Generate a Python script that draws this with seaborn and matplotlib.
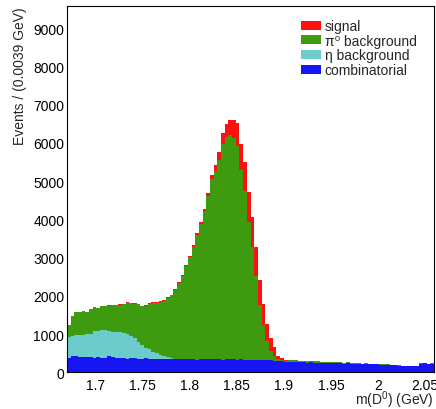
import numpy as np
import pandas as pd
import matplotlib
matplotlib.use("Agg")
import matplotlib.pyplot as plt
from matplotlib.patches import Patch
from matplotlib.ticker import MultipleLocator, FuncFormatter
import seaborn as sns

# Histogram binning: 100 bins of 0.0039 GeV
x_lo = 1.6695
bin_width = 0.0039
n_bins = 100

# Stacked yields per bin (events / bin)
signal = [
    5, 5, 5, 5, 5, 5, 5, 5, 5, 10,
    10, 10, 10, 10, 10, 10, 10, 10, 10, 10,
    15, 15, 15, 15, 15, 15, 20, 20, 20, 25,
    25, 30, 30, 35, 40, 45, 50, 60, 80, 110,
    160, 220, 280, 340, 400, 480, 600, 680, 760, 780,
    780, 740, 660, 560, 430, 320, 230, 95, 35, 10,
    5, 0, 0, 0, 0, 0, 0, 0, 0, 0,
    0, 0, 0, 0, 0, 0, 0, 0, 0, 0,
    0, 0, 0, 0, 0, 0, 0, 0, 0, 0,
    0, 0, 0, 0, 0, 0, 0, 0, 0, 0,
]
pi0_bkg = [
    325, 505, 595, 600, 615, 585, 635, 610, 605, 620,
    635, 670, 695, 690, 715, 740, 820, 840, 890, 990,
    1005, 1105, 1195, 1285, 1315, 1395, 1440, 1540, 1630, 1795,
    1980, 2180, 2420, 2680, 2945, 3265, 3550, 3875, 4255, 4690,
    4920, 5215, 5650, 5810, 5865, 5775, 5600, 4950, 4405, 3600,
    2950, 2205, 1445, 910, 520, 255, 115, 40, 35, 30,
    40, 50, 45, 40, 30, 35, 30, 35, 30, 25,
    30, 25, 30, 35, 25, 20, 25, 20, 15, 20,
    15, 15, 20, 10, 15, 10, 15, 10, 10, 10,
    10, 10, 5, 10, 5, 5, 5, 5, 5, 5,
]
eta_bkg = [
    540, 530, 550, 570, 580, 595, 620, 700, 680, 730,
    725, 650, 670, 680, 690, 670, 640, 595, 530, 435,
    360, 275, 250, 175, 165, 100, 85, 45, 40, 15,
    10, 0, 0, 0, 0, 0, 0, 0, 0, 0,
    0, 0, 0, 0, 0, 0, 0, 0, 0, 0,
    0, 0, 0, 0, 0, 0, 0, 0, 0, 0,
    0, 0, 0, 0, 0, 0, 0, 0, 0, 0,
    0, 0, 0, 0, 0, 0, 0, 0, 0, 0,
    0, 0, 0, 0, 0, 0, 0, 0, 0, 0,
    0, 0, 0, 0, 0, 0, 0, 0, 0, 0,
]
combinatorial = [
    380, 430, 420, 405, 400, 395, 390, 385, 400, 380,
    375, 420, 395, 380, 365, 370, 360, 365, 370, 355,
    360, 365, 350, 355, 345, 350, 345, 355, 340, 345,
    335, 340, 350, 335, 345, 330, 340, 335, 345, 360,
    340, 335, 330, 340, 335, 345, 330, 340, 325, 330,
    320, 325, 315, 320, 310, 315, 305, 300, 295, 275,
    270, 265, 270, 260, 265, 255, 260, 250, 255, 245,
    250, 240, 245, 235, 240, 230, 235, 225, 230, 220,
    215, 220, 210, 205, 210, 200, 195, 200, 190, 185,
    170, 165, 170, 160, 165, 170, 230, 235, 225, 230,
]

labels = ["signal", "π⁰ background", "η background", "combinatorial"]
colors = ["#ff0f0f", "#3e9b10", "#6ccccc", "#1616f2"]
x_ticks = [1.7, 1.75, 1.8, 1.85, 1.9, 1.95, 2.0, 2.05]
y_ticks = [0, 1000, 2000, 3000, 4000, 5000, 6000, 7000, 8000, 9000]

edges = [x_lo + bin_width * i for i in range(n_bins + 1)]
centers = [0.5 * (edges[i] + edges[i + 1]) for i in range(n_bins)]

frames = []
for name, counts in zip(labels, [signal, pi0_bkg, eta_bkg, combinatorial]):
    frames.append(pd.DataFrame({"mass": centers, "count": counts, "component": name}))
df = pd.concat(frames, ignore_index=True)

sns.set_style("white")
plt.rcParams["font.family"] = ["Liberation Sans", "DejaVu Sans"]
plt.rcParams["mathtext.fontset"] = "custom"
plt.rcParams["mathtext.rm"] = "Liberation Sans"
plt.rcParams["mathtext.it"] = "Liberation Sans"
plt.rcParams["font.size"] = 10

fig = plt.figure(figsize=(4.36, 4.10), dpi=100)
ax = fig.add_axes([67 / 436, 1 - 373.3 / 410, 367 / 436, 366.3 / 410])

sns.histplot(
    data=df, x="mass", weights="count", hue="component",
    hue_order=labels, palette=colors, bins=edges,
    multiple="stack", element="step", fill=True, alpha=1.0,
    linewidth=0, legend=False, ax=ax,
)

ax.set_xlim(edges[0], edges[-1])
ax.set_ylim(0, 9580)

ax.xaxis.set_major_locator(plt.FixedLocator(x_ticks))
ax.xaxis.set_minor_locator(MultipleLocator(0.01))
ax.yaxis.set_major_locator(plt.FixedLocator(y_ticks))
ax.yaxis.set_minor_locator(MultipleLocator(200))
ax.xaxis.set_major_formatter(FuncFormatter(lambda v, p: f"{v:g}"))
ax.yaxis.set_major_formatter(FuncFormatter(lambda v, p: f"{v:g}"))

ax.tick_params(axis="both", which="major", direction="in", length=7.5, width=0.8,
               labelsize=10, colors="black")
ax.tick_params(axis="both", which="minor", direction="in", length=3.8, width=0.8)
ax.tick_params(axis="x", which="major", pad=4)
ax.tick_params(axis="y", which="major", pad=2)
ax.tick_params(top=False, right=False, which="both")

for s in ax.spines.values():
    s.set_visible(True)
    s.set_linewidth(0.8)
    s.set_color("black")

ax.set_xlabel(r"m(D$^{0}$) (GeV)", fontsize=10, loc="right")
ax.set_ylabel("Events / (0.0039 GeV)", fontsize=10, loc="top")
ax.xaxis.set_label_coords(1.0, -0.045)
ax.yaxis.set_label_coords(-0.109, 1.0)

handles = [Patch(facecolor=c, edgecolor="none", label=l) for c, l in zip(colors, labels)]
ax.legend(
    handles=handles, loc="upper left",
    bbox_to_anchor=(300.7 / 436, 1 - 20 / 410), bbox_transform=fig.transFigure,
    frameon=False, fontsize=10, borderpad=0, borderaxespad=0,
    handlelength=1.45, handleheight=0.6, handletextpad=0.27, labelspacing=0.05,
)

fig.savefig("out.png", dpi=100)
